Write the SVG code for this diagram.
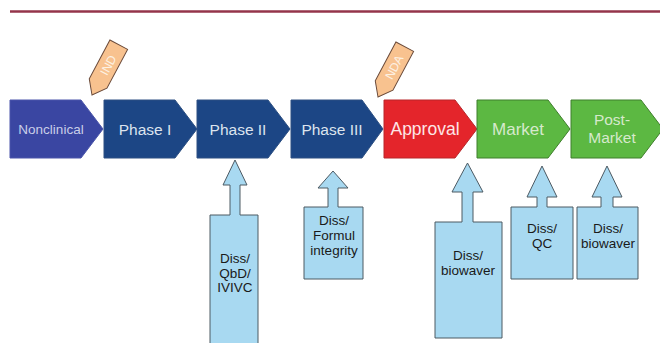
<svg xmlns="http://www.w3.org/2000/svg" width="660" height="343" viewBox="0 0 660 343">
<style>
.t{font-family:"Liberation Sans",Arial,sans-serif;text-anchor:middle}
.dk{fill:#1c4685;stroke:#2c4f82;stroke-width:1}
.nc{fill:#3a46a2;stroke:#4a55aa;stroke-width:1}
.rd{fill:#e4252b;stroke:#b8272b;stroke-width:1}
.gr{fill:#5cb842;stroke:#3f7f2c;stroke-width:1}
.ph{fill:#dde4ee;font-size:15.5px}
.call{fill:#a8d9f1;stroke:#4d5a63;stroke-width:1}
.ct{fill:#1a1a1a;font-size:13.5px}
.pen{fill:#f8c28f;stroke:#6a4a3a;stroke-width:1}
.pt{fill:#fdf1e3;font-size:12px}
</style>
<line x1="10" y1="11.5" x2="660" y2="11.5" stroke="#94344a" stroke-width="2.5"/>
<g id="nonclinical"><path class="nc" d="M10,100 H81 L103,129 L81,158 H10 Z"/><text class="t" x="51" y="134" fill="#c9cee8" font-size="13.5">Nonclinical</text></g>
<g id="phase1"><path class="dk" d="M104,100 H175 L197,129 L175,158 H104 Z"/><text class="t ph" x="145" y="134.5">Phase I</text></g>
<g id="phase2"><path class="dk" d="M197,100 H268 L290,129 L268,158 H197 Z"/><text class="t ph" x="238" y="134.5">Phase II</text></g>
<g id="phase3"><path class="dk" d="M291,100 H362 L383,129 L362,158 H291 Z"/><text class="t ph" x="332" y="134.5">Phase III</text></g>
<g id="approval"><path class="rd" d="M384,100 H455 L477,129 L455,158 H384 Z"/><text class="t" x="425" y="135" fill="#fde6e6" font-size="17.5">Approval</text></g>
<g id="market"><path class="gr" d="M477,100 H548 L570,129 L548,158 H477 Z"/><text class="t" x="518" y="135" fill="#d6e9cc" font-size="17">Market</text></g>
<g id="postmarket"><path class="gr" d="M571,100 H641 L663,129 L641,158 H571 Z"/><text class="t" x="612" y="125" fill="#d6e9cc" font-size="15.5">Post-</text><text class="t" x="612" y="143" fill="#d6e9cc" font-size="15.5">Market</text></g>
<g id="ind" transform="translate(92,95) rotate(28)"><path class="pen" d="M0,0 L-10,-13 V-57 H10 V-13 Z"/><text class="t pt" transform="rotate(-90)" x="34" y="4.5">IND</text></g>
<g id="nda" transform="translate(378,97) rotate(28)"><path class="pen" d="M0,0 L-10,-13 V-57 H10 V-13 Z"/><text class="t pt" transform="rotate(-90)" x="34" y="4.5">NDA</text></g>
<g id="connectors"></g>
<g id="c-phase2"><path class="call" d="M235,160 L247,185 L240,185 L240,215 L258,215 L258,346 L210,346 L210,215 L230,215 L230,185 L223,185 Z"/><text class="t ct" x="235" y="263">Diss/</text><text class="t ct" x="235" y="277.5">QbD/</text><text class="t ct" x="235" y="292">IVIVC</text></g>
<g id="c-phase3"><path class="call" d="M333,171 L348,188 L338,188 L338,207 L363,207 L363,279 L304,279 L304,207 L328,207 L328,188 L318,188 Z"/><text class="t ct" x="334" y="225">Diss/</text><text class="t ct" x="334" y="240">Formul</text><text class="t ct" x="334" y="255">integrity</text></g>
<g id="c-approval"><path class="call" d="M467.5,163 L483,192 L473,192 L473,222 L502,222 L502,338 L435,338 L435,222 L462,222 L462,192 L452,192 Z"/><text class="t ct" x="468" y="260">Diss/</text><text class="t ct" x="468" y="275">biowaver</text></g>
<g id="c-market"><path class="call" d="M542,166 L557,197 L547,197 L547,207 L573,207 L573,279 L511,279 L511,207 L537,207 L537,197 L527,197 Z"/><text class="t ct" x="542" y="233">Diss/</text><text class="t ct" x="542" y="248">QC</text></g>
<g id="c-postmarket"><path class="call" d="M607,166 L622,197 L613,197 L613,207 L638,207 L638,279 L577,279 L577,207 L601,207 L601,197 L592,197 Z"/><text class="t ct" x="608" y="233">Diss/</text><text class="t ct" x="608" y="248">biowaver</text></g>
</svg>
